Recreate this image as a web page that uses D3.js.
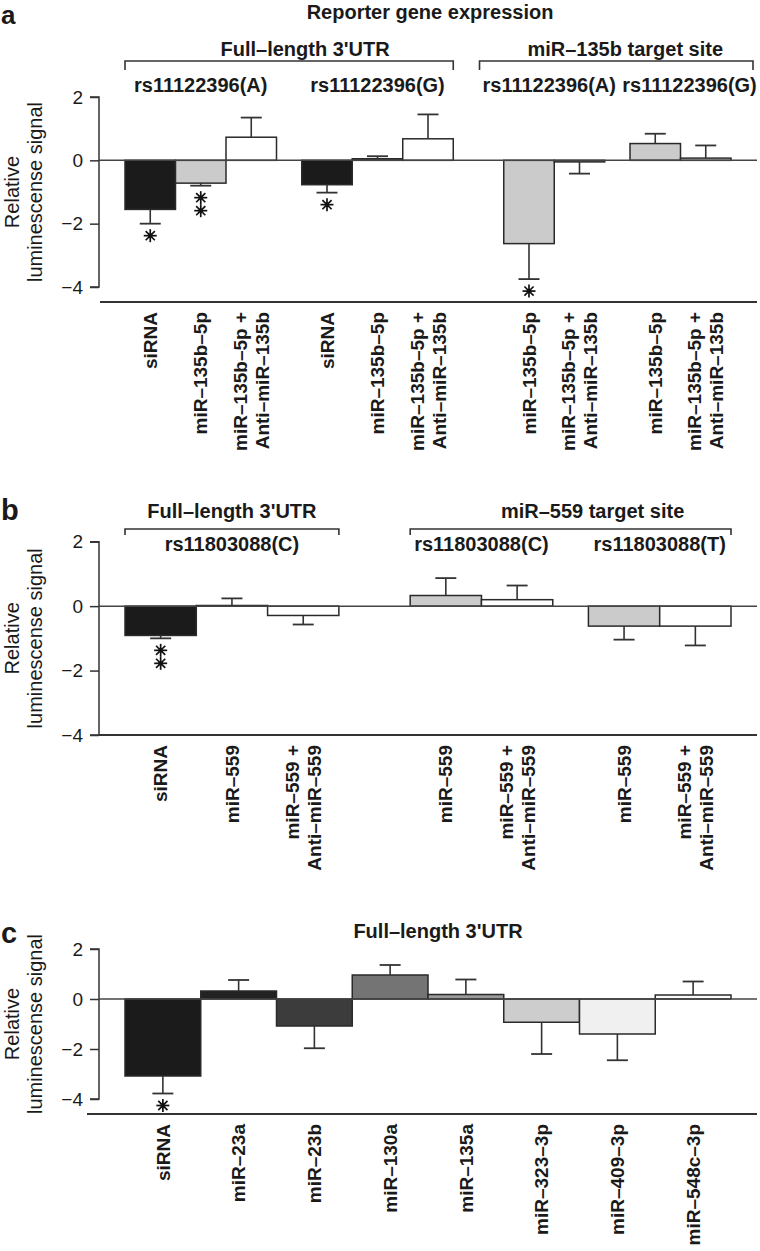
<!DOCTYPE html>
<html><head><meta charset="utf-8">
<script src="https://cdn.jsdelivr.net/npm/d3@7"></script>
<style>
body{margin:0;background:#fff}
svg{display:block}
text{font-family:"Liberation Sans",Arial,Helvetica,sans-serif;fill:#1a1a1a}
</style>
</head><body>
<svg id="chart" width="760" height="1251"></svg>
<script>
// ---------- DATA ----------
const yTickValues = [-4, -2, 0, 2];
const yTitleLines = ["Relative", "luminescense signal"];
const mainTitle = "Reporter gene expression";

// Panel a
const aCategories = ["siRNA", "miR–135b–5p", "miR–135b–5p +\nAnti–miR–135b",
                     "siRNA", "miR–135b–5p", "miR–135b–5p +\nAnti–miR–135b",
                     "miR–135b–5p", "miR–135b–5p +\nAnti–miR–135b",
                     "miR–135b–5p", "miR–135b–5p +\nAnti–miR–135b"];
const aGroups = ["Full–length 3'UTR", "Full–length 3'UTR", "Full–length 3'UTR",
                 "Full–length 3'UTR", "Full–length 3'UTR", "Full–length 3'UTR",
                 "miR–135b target site", "miR–135b target site",
                 "miR–135b target site", "miR–135b target site"];
const aSubgroups = ["rs11122396(A)", "rs11122396(A)", "rs11122396(A)",
                    "rs11122396(G)", "rs11122396(G)", "rs11122396(G)",
                    "rs11122396(A)", "rs11122396(A)",
                    "rs11122396(G)", "rs11122396(G)"];
const aMeans = [-1.55, -0.72, 0.73, -0.77, 0.05, 0.68, -2.63, -0.05, 0.53, 0.07];
const aErrorEnds = [-2.0, -0.8, 1.35, -1.02, 0.13, 1.45, -3.75, -0.42, 0.84, 0.47];
const aStars = [1, 2, 0, 1, 0, 0, 1, 0, 0, 0];

// Panel b
const bCategories = ["siRNA", "miR–559", "miR–559 +\nAnti–miR–559",
                     "miR–559", "miR–559 +\nAnti–miR–559",
                     "miR–559", "miR–559 +\nAnti–miR–559"];
const bGroups = ["Full–length 3'UTR", "Full–length 3'UTR", "Full–length 3'UTR",
                 "miR–559 target site", "miR–559 target site",
                 "miR–559 target site", "miR–559 target site"];
const bSubgroups = ["rs11803088(C)", "rs11803088(C)", "rs11803088(C)",
                    "rs11803088(C)", "rs11803088(C)",
                    "rs11803088(T)", "rs11803088(T)"];
const bMeans = [-0.91, 0.02, -0.29, 0.33, 0.20, -0.62, -0.62];
const bErrorEnds = [-1.0, 0.24, -0.57, 0.87, 0.64, -1.04, -1.22];
const bStars = [2, 0, 0, 0, 0, 0, 0];

// Panel c
const cCategories = ["siRNA", "miR–23a", "miR–23b", "miR–130a", "miR–135a",
                     "miR–323–3p", "miR–409–3p", "miR–548c–3p"];
const cGroups = ["Full–length 3'UTR", "Full–length 3'UTR", "Full–length 3'UTR", "Full–length 3'UTR",
                 "Full–length 3'UTR", "Full–length 3'UTR", "Full–length 3'UTR", "Full–length 3'UTR"];
const cMeans = [-3.08, 0.32, -1.08, 0.96, 0.18, -0.93, -1.40, 0.16];
const cErrorEnds = [-3.78, 0.76, -1.97, 1.36, 0.78, -2.20, -2.45, 0.70];
const cStars = [1, 0, 0, 0, 0, 0, 0, 0];

// ---------- DRAWING ----------
const svg = d3.select("#chart");
const FONT_LABEL = 19, FONT_HEAD = 20;

function treatmentColor(cat) {
  if (cat.startsWith("siRNA")) return "#1b1b1b";
  if (cat.includes("+")) return "#ffffff";
  return "#cbcbcb";
}
const cColor = d3.scaleOrdinal()
  .domain(cCategories)
  .range(["#1b1b1b", "#222222", "#3c3c3c", "#747474", "#9a9a9a", "#cdcdcd", "#f0f0f0", "#fbfbfb"]);

function drawPanel(cfg) {
  const n = cfg.categories.length;
  // slot positions: 1 unit gap between groups, 0.5 between subgroups
  const slots = [];
  let pos = 0;
  for (let i = 0; i < n; i++) {
    if (i > 0) {
      if (cfg.groups[i] !== cfg.groups[i - 1]) pos += 1;
      else if (cfg.subgroups && cfg.subgroups[i] !== cfg.subgroups[i - 1]) pos += 0.5;
    }
    slots.push(pos);
    pos += 1;
  }
  const x = d3.scaleLinear().domain([0, pos]).range([125, 731]);
  const y = d3.scaleLinear().domain([-4, 2]).range([cfg.yBottom, cfg.yTop]);
  const bw = x(1) - x(0);
  const g = svg.append("g");

  // panel letter
  g.append("text").attr("x", 1).attr("y", cfg.letterY)
    .attr("font-size", cfg.letterSize || 29).attr("font-weight", "bold").text(cfg.letter);

  // y axis
  const axis = d3.axisLeft(y).tickValues(yTickValues).tickSize(9).tickPadding(7)
    .tickFormat(d3.format("d"));
  const ag = g.append("g").attr("transform", "translate(99,0)").call(axis);
  ag.select(".domain").attr("d", `M-9,${y(2)}H0V${y(-4)}H-9`).attr("stroke", "#333").attr("stroke-width", 1.5);
  ag.selectAll(".tick line").attr("stroke", "#333").attr("stroke-width", 1.5);
  ag.selectAll(".tick text").attr("font-size", 19).attr("fill", "#222")
    .attr("font-family", "Liberation Sans, Arial, sans-serif");

  // y title
  const yc = (y(2) + y(-4)) / 2;
  yTitleLines.forEach((t, i) => {
    g.append("text").attr("transform", `translate(${12 + i * 23},${yc}) rotate(-90)`)
      .attr("text-anchor", "middle").attr("dy", "0.35em")
      .attr("font-size", 20).attr("fill", "#222").text(t);
  });

  // baseline
  g.append("line").attr("x1", cfg.baseX0).attr("x2", 757)
    .attr("y1", cfg.baseline).attr("y2", cfg.baseline)
    .attr("stroke", "#333").attr("stroke-width", 2);

  // bars
  const data = cfg.categories.map((c, i) => ({
    cat: c, slot: slots[i], v: cfg.means[i], e: cfg.errs[i], s: cfg.stars[i], i
  }));
  g.selectAll("rect.bar").data(data).join("rect").attr("class", "bar")
    .attr("x", d => x(d.slot)).attr("width", bw)
    .attr("y", d => y(Math.max(0, d.v))).attr("height", d => Math.abs(y(d.v) - y(0)))
    .attr("fill", d => cfg.color(d.cat)).attr("stroke", "#2a2a2a").attr("stroke-width", 1.5);

  // zero line
  g.append("line").attr("x1", 99).attr("x2", 757).attr("y1", y(0)).attr("y2", y(0))
    .attr("stroke", "#444").attr("stroke-width", 1.5);

  // error bars
  data.forEach(d => {
    const cx = x(d.slot + 0.5);
    g.append("line").attr("x1", cx).attr("x2", cx).attr("y1", y(d.v)).attr("y2", y(d.e))
      .attr("stroke", "#333").attr("stroke-width", 1.6);
    g.append("line").attr("x1", cx - 10.5).attr("x2", cx + 10.5).attr("y1", y(d.e)).attr("y2", y(d.e))
      .attr("stroke", "#333").attr("stroke-width", 1.8);
    for (let k = 0; k < d.s; k++) {
      const sy = y(d.e) + 12 + k * 13;
      const sg = g.append("g").attr("transform", `translate(${cx},${sy})`);
      [0, 45, 90, 135].forEach(a => {
        const r = 6.5, rad = a * Math.PI / 180;
        sg.append("line").attr("x1", -r * Math.cos(rad)).attr("y1", -r * Math.sin(rad))
          .attr("x2", r * Math.cos(rad)).attr("y2", r * Math.sin(rad))
          .attr("stroke", "#111").attr("stroke-width", 1.7);
      });
      sg.append("circle").attr("r", 2.4).attr("fill", "#111");
    }
  });

  // category labels (rotated)
  data.forEach(d => {
    const lines = d.cat.split("\n");
    const cx = x(d.slot + 0.5);
    lines.forEach((t, li) => {
      const lx = cx + (li - (lines.length - 1) / 2) * 22;
      g.append("text").attr("transform", `translate(${lx},${cfg.baseline + 10}) rotate(-90)`)
        .attr("text-anchor", "end").attr("dy", "0.35em")
        .attr("font-size", FONT_LABEL).attr("font-weight", "bold").text(t);
    });
  });

  // group headers, brackets, subgroup labels
  const groupNames = Array.from(new Set(cfg.groups));
  groupNames.forEach(gn => {
    const idx = data.filter(d => cfg.groups[d.i] === gn);
    let x0 = x(d3.min(idx, d => d.slot)), x1 = x(d3.max(idx, d => d.slot) + 1);
    if (cfg.subgroups) {
      let runs = [];
      idx.forEach(d => {
        const s = cfg.subgroups[d.i];
        if (!runs.length || runs[runs.length - 1].name !== s) runs.push({ name: s, items: [] });
        runs[runs.length - 1].items.push(d);
      });
      runs.forEach(r => {
        const shift = (cfg.subShift && cfg.subShift[gn + "|" + r.name]) || 0;
        const sx = (x(d3.min(r.items, d => d.slot)) + x(d3.max(r.items, d => d.slot) + 1)) / 2 + shift;
        const t = g.append("text").attr("x", sx).attr("y", cfg.subY).attr("text-anchor", "middle")
          .attr("font-size", FONT_HEAD).attr("font-weight", "bold").text(r.name);
        const w = t.node().getComputedTextLength();
        x0 = Math.min(x0, sx - w / 2 - 3);
        x1 = Math.max(x1, sx + w / 2 + 3);
      });
      x1 = Math.min(x1, 753);
      g.append("path").attr("d", `M${x0},${cfg.bracketY + cfg.drop}V${cfg.bracketY}H${x1}V${cfg.bracketY + cfg.drop}`)
        .attr("fill", "none").attr("stroke", "#333").attr("stroke-width", 1.6);
    }
    g.append("text").attr("x", (x0 + x1) / 2 + (cfg.headShift ? cfg.headShift[gn] || 0 : 0))
      .attr("y", cfg.headY).attr("text-anchor", "middle")
      .attr("font-size", FONT_HEAD).attr("font-weight", "bold").text(gn);
  });
  return x;
}

// main title
svg.append("text").attr("x", 430).attr("y", 19).attr("text-anchor", "middle")
  .attr("font-size", FONT_HEAD).attr("font-weight", "bold").text(mainTitle);

drawPanel({
  letter: "a", letterY: 24, letterSize: 26,
  categories: aCategories, groups: aGroups, subgroups: aSubgroups,
  means: aMeans, errs: aErrorEnds, stars: aStars, color: treatmentColor,
  yTop: 97, yBottom: 287, baseline: 302, baseX0: 100,
  headY: 56, bracketY: 61, drop: 9, subY: 92,
  headShift: { "Full–length 3'UTR": 16, "miR–135b target site": 9 },
  subShift: { "miR–135b target site|rs11122396(A)": -5, "miR–135b target site|rs11122396(G)": 9 }
});

drawPanel({
  letter: "b", letterY: 520,
  categories: bCategories, groups: bGroups, subgroups: bSubgroups,
  means: bMeans, errs: bErrorEnds, stars: bStars, color: treatmentColor,
  yTop: 541.7, yBottom: 735, baseline: 735, baseX0: 99,
  headY: 518, bracketY: 529, drop: 6, subY: 551,
  headShift: { "miR–559 target site": 22 }
});

drawPanel({
  letter: "c", letterY: 943,
  categories: cCategories, groups: cGroups, subgroups: null,
  means: cMeans, errs: cErrorEnds, stars: cStars, color: cColor,
  yTop: 949, yBottom: 1099, baseline: 1114, baseX0: 87,
  headY: 938, headShift: { "Full–length 3'UTR": 10 }
});
</script>
</body></html>
